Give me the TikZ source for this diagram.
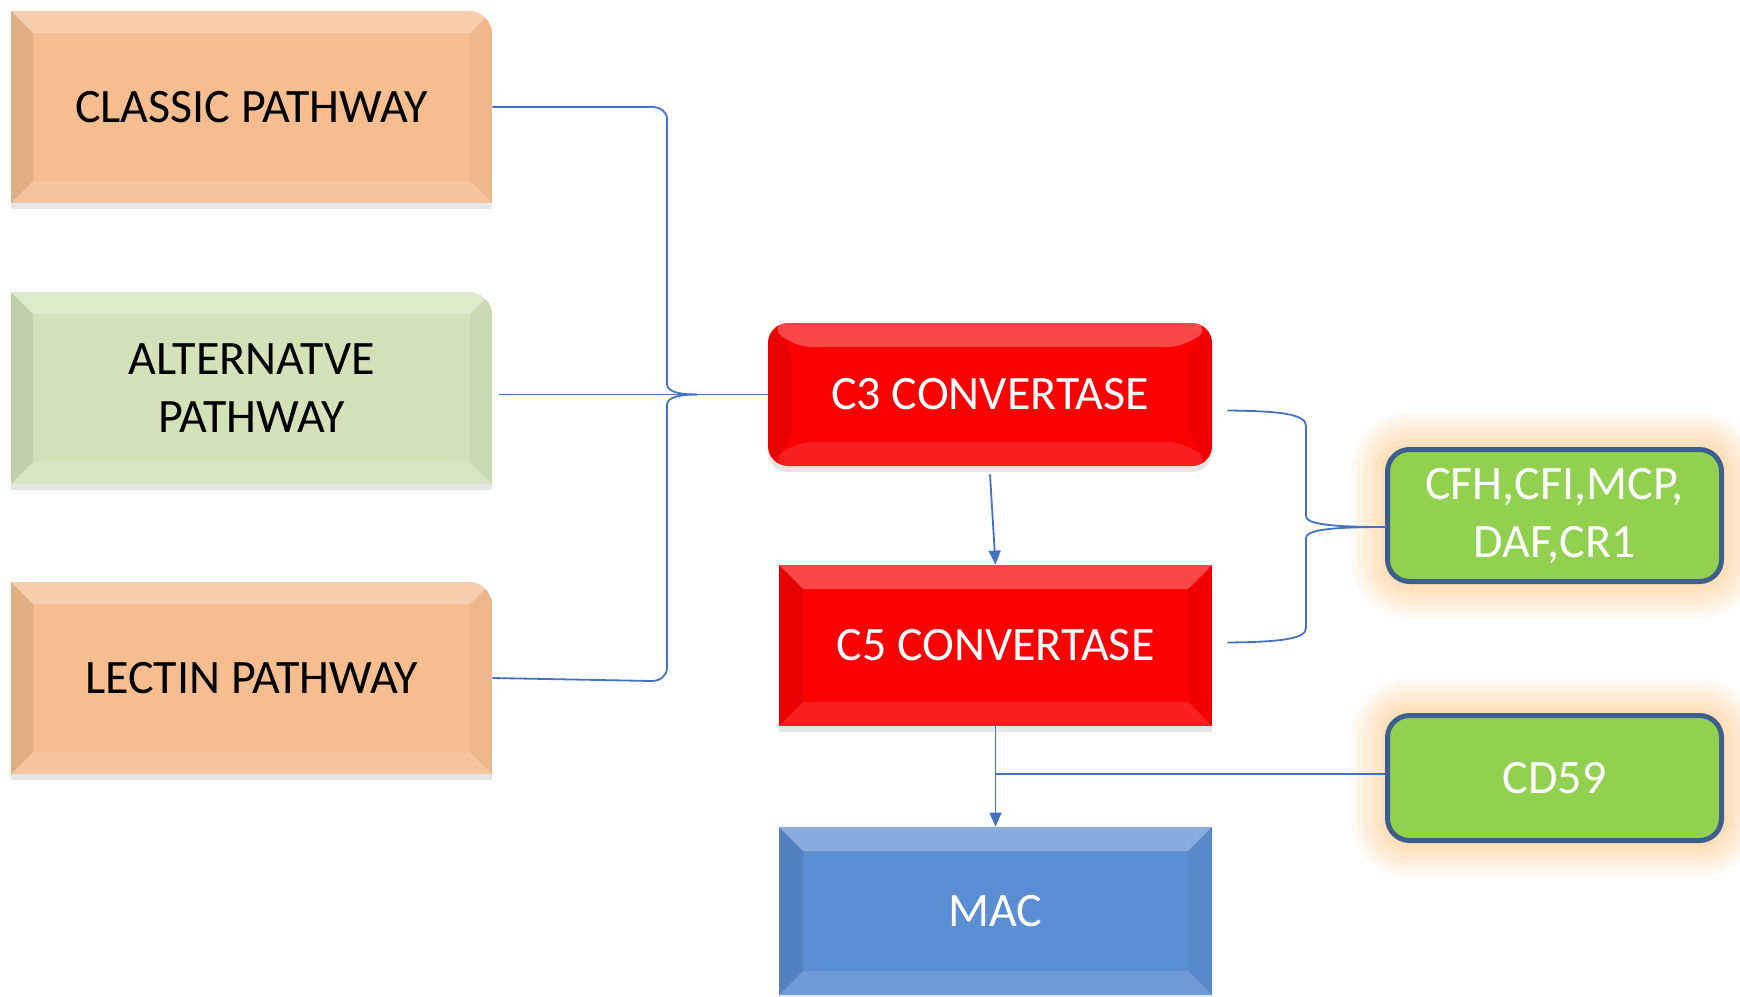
\documentclass[tikz,border=0pt]{standalone}
\usepackage{fontspec}
\setmainfont{Carlito}
\usetikzlibrary{positioning, shadows, arrows.meta}

\definecolor{peach}{HTML}{F5BD90}
\definecolor{sage}{HTML}{D4E1B9}
\definecolor{convred}{HTML}{FA0000}
\definecolor{macblue}{HTML}{5A8DD1}
\definecolor{leaf}{HTML}{92D050}
\definecolor{frame}{HTML}{3D5F8F}
\definecolor{glowc}{HTML}{FFCF98}
\definecolor{link}{HTML}{4472C4}

\tikzset{
  bevel/.style={path picture={
    \coordinate (bl) at (path picture bounding box.south west);
    \coordinate (tr) at (path picture bounding box.north east);
    \coordinate (tl) at (path picture bounding box.north west);
    \coordinate (br) at (path picture bounding box.south east);
    \fill[white, opacity=.28] (tl) -- (tr) -- ([shift={(-#1,-#1)}]tr) -- ([shift={(#1,-#1)}]tl) -- cycle;
    \fill[black, opacity=.08] (tl) -- (bl) -- ([shift={(#1,#1)}]bl) -- ([shift={(#1,-#1)}]tl) -- cycle;
    \fill[white, opacity=.12] (bl) -- (br) -- ([shift={(-#1,#1)}]br) -- ([shift={(#1,#1)}]bl) -- cycle;
    \fill[black, opacity=.03] (br) -- (tr) -- ([shift={(-#1,-#1)}]tr) -- ([shift={(-#1,#1)}]br) -- cycle;
  }},
  pathbox/.style={rectangle, minimum width=240.5pt, minimum height=96pt, align=center, text=black, bevel=11pt,
    drop shadow={opacity=.2, shadow xshift=0pt, shadow yshift=-3pt}},
  convbox/.style={rectangle, minimum width=216.5pt, minimum height=80.5pt, fill=convred, text=white, bevel=12pt,
    drop shadow={opacity=.2, shadow xshift=0pt, shadow yshift=-3pt}},
  inhibit/.style={rectangle, rounded corners=11pt, minimum width=167pt, fill=leaf, draw=frame, line width=2.5pt,
    text=white, align=center,
    preaction={draw=glowc, line width=36pt, draw opacity=.12},
    preaction={draw=glowc, line width=30pt, draw opacity=.14},
    preaction={draw=glowc, line width=24pt, draw opacity=.16},
    preaction={draw=glowc, line width=18pt, draw opacity=.18},
    preaction={draw=glowc, line width=12pt, draw opacity=.2},
    preaction={draw=glowc, line width=6pt, draw opacity=.2}},
  conn/.style={draw=link, line width=.9pt},
  flow/.style={conn, -{Triangle[length=7pt, width=6pt]}},
}

\begin{document}
\begin{tikzpicture}[x=0.5pt, y=-0.5pt, every node/.style={font=\fontsize{24}{29}\selectfont}]
  \useasboundingbox (0,0) rectangle (1740,996);

  % Pathways
  \node (classic) [pathbox, fill=peach] at (251.5,107) {CLASSIC PATHWAY};
  \node (alt) [pathbox, fill=sage, node distance=140.5pt, below of=classic] {ALTERNATVE\\PATHWAY};
  \node (lectin) [pathbox, fill=peach, node distance=145pt, below of=alt] {LECTIN PATHWAY};
  \foreach \n in {classic, alt, lectin}
    \fill[white] (\n.north east) -- ([xshift=-12pt]\n.north east) arc[start angle=90, end angle=0, radius=12pt] -- cycle;

  % Convertases
  \node (c3) [convbox, rounded corners=10pt, minimum width=222pt, minimum height=71.5pt] at (990,394.5) {C3 CONVERTASE};
  \node (c5) [convbox] at (995.5,645.5) {C5 CONVERTASE};
  \node (mac) [convbox, fill=macblue, minimum height=84pt] at (995.5,911) {MAC};

  % Regulators
  \node (cfh) [inhibit, minimum height=66pt] at (1554.5,515.5) {CFH,CFI,MCP,\\DAF,CR1};
  \node (cd59) [inhibit, minimum height=62.5pt] at (1554.5,778) {CD59};

  % Edges
  \coordinate (ltip) at (697,394.5);
  \coordinate (rtip) at (1386,527);
  \draw[conn] (classic.east) -- (653,107) to[out=0, in=90] (667,119) -- (667,384) .. controls (667,392) and (680,394.5) .. (ltip);
  \draw[conn] (lectin.east) -- (652,681) to[out=0, in=-90] (667,668) -- (667,405) .. controls (667,397) and (680,394.5) .. (ltip);
  \draw[conn] ([xshift=3.5pt]alt.east |- c3.west) -- (c3.west);
  \draw[conn] ([xshift=7.5pt,yshift=-8pt]c3.east) .. controls (1280,411) and (1306,414) .. (1306,426) -- (1306,516) .. controls (1306,524) and (1330,527) .. (rtip);
  \draw[conn] ([xshift=7.5pt,yshift=1.5pt]c5.east) .. controls (1280,642) and (1306,639) .. (1306,628) -- (1306,538) .. controls (1306,530) and (1330,527) .. (rtip);
  \draw[flow] ([yshift=-4pt]c3.south) -- (c5.north);
  \draw[flow] (c5.south) -- (mac.north);
  \draw[conn] ([yshift=2pt]cd59.west) -- ([yshift=2pt]cd59.west -| c5.south);
\end{tikzpicture}
\end{document}
